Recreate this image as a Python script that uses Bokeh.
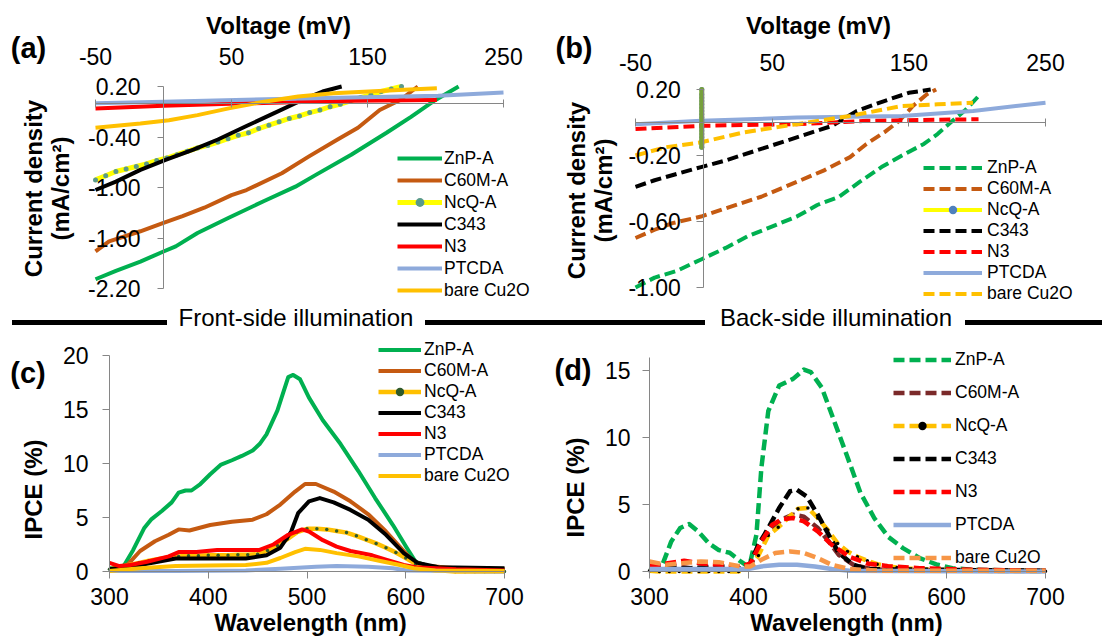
import math
from bokeh.plotting import figure
from bokeh.models import LinearAxis, FixedTicker, Label, Legend, LegendItem, Div
from bokeh.layouts import column, row
from bokeh.embed import file_html
from bokeh.resources import INLINE

FONT = "Liberation Sans"
GRAY = "#868686"

NAMES = ["ZnP-A", "C60M-A", "NcQ-A", "C343", "N3", "PTCDA", "bare Cu2O"]

# ---------------- (a) front-side J-V ----------------
a_xticks = [-50, 50, 150, 250]
a_xlabels = ["-50", "50", "150", "250"]
a_yticks = [0.2, -0.4, -1.0, -1.6, -2.2]
a_ylabels = ["0.20", "-0.40", "-1.00", "-1.60", "-2.20"]

a_znp_v = [-50, -35, -17, 0, 9, 25, 48, 74, 97, 112, 138, 164, 182, 200, 217]
a_znp_j = [-2.09, -1.99, -1.88, -1.76, -1.70, -1.54, -1.36, -1.16, -0.99, -0.85, -0.61, -0.35, -0.16, 0.04, 0.20]
a_c60_v = [-50, -40, -17, 0, 14, 30, 50, 61, 87, 107, 128, 143, 159, 174, 187]
a_c60_j = [-1.76, -1.64, -1.52, -1.42, -1.34, -1.24, -1.09, -1.03, -0.83, -0.63, -0.43, -0.29, -0.08, 0.04, 0.20]
a_ncq_v = [-50, -42.5, -35, -27.5, -20, -12.5, -5, 2.5, 10, 17.5, 25, 32.5, 40, 47.5, 55, 62.5,
           70, 77.5, 85, 92.5, 100, 107.5, 115, 122.5, 130, 137.5, 145, 152.5, 160, 167.5, 175]
a_ncq_j = [-0.91, -0.86, -0.81, -0.78, -0.75, -0.72, -0.68, -0.65, -0.61, -0.57, -0.53, -0.50, -0.46, -0.42, -0.38, -0.35,
           -0.30, -0.26, -0.22, -0.18, -0.15, -0.11, -0.08, -0.04, -0.01, 0.03, 0.07, 0.10, 0.14, 0.17, 0.20]
a_c343_v = [-50, -35, -17, 2, 22, 40, 61, 81, 102, 117, 131]
a_c343_j = [-1.03, -0.93, -0.79, -0.67, -0.55, -0.43, -0.27, -0.12, 0.04, 0.14, 0.20]
a_n3_v = [-50, 0, 61, 138, 201]
a_n3_j = [-0.06, -0.03, 0.00, 0.03, 0.04]
a_pt_v = [-50, 0, 138, 202, 250]
a_pt_j = [0.00, 0.02, 0.07, 0.09, 0.13]
a_cu_v = [-50, -17, 4, 25, 48, 74, 99, 125, 151, 177, 201]
a_cu_j = [-0.29, -0.24, -0.20, -0.14, -0.06, 0.02, 0.08, 0.12, 0.14, 0.16, 0.18]

# ---------------- (b) back-side J-V ----------------
b_xticks = [-50, 50, 150, 250]
b_xlabels = ["-50", "50", "150", "250"]
b_yticks = [0.2, -0.2, -0.6, -1.0]
b_ylabels = ["0.20", "-0.20", "-0.60", "-1.00"]

b_znp_v = [-50, -36, -20, -2, 16, 32, 47, 68, 83, 99, 114, 130, 145, 161, 171, 182, 192, 201]
b_znp_j = [-1.00, -0.94, -0.90, -0.83, -0.76, -0.69, -0.64, -0.57, -0.50, -0.45, -0.36, -0.27, -0.20, -0.13, -0.07, 0.01, 0.08, 0.16]
b_c60_v = [-50, -36, -23, -2, 16, 42, 68, 88, 107, 119, 132, 143, 153, 163, 170]
b_c60_j = [-0.70, -0.65, -0.61, -0.57, -0.52, -0.45, -0.36, -0.29, -0.21, -0.13, -0.06, 0.01, 0.10, 0.17, 0.20]
b_ncq_v = [-1.5, -1.5, -1.5, -1.5, -1.5, -1.5, -1.5, -1.5, -1.5, -1.5, -1.5, -1.5, -1.5, -1.5, -1.5, -1.5, -1.5, -1.5]
b_ncq_j = [-0.15, -0.13, -0.11, -0.09, -0.07, -0.05, -0.03, -0.01, 0.01, 0.03, 0.05, 0.07, 0.09, 0.11, 0.13, 0.15, 0.17, 0.20]
b_c343_v = [-50, -36, -2, 16, 42, 68, 94, 112, 132, 150, 166]
b_c343_j = [-0.39, -0.35, -0.27, -0.23, -0.16, -0.09, -0.02, 0.07, 0.13, 0.18, 0.20]
b_n3_v = [-50, -2, 68, 119, 201]
b_n3_j = [-0.04, -0.02, -0.01, 0.01, 0.02]
b_pt_v = [-50, -2, 68, 145, 197, 250]
b_pt_j = [-0.01, 0.01, 0.03, 0.04, 0.07, 0.12]
b_cu_v = [-50, -28, -2, 29, 68, 107, 145, 171, 197]
b_cu_j = [-0.20, -0.15, -0.12, -0.06, -0.01, 0.04, 0.10, 0.11, 0.12]

# ---------------- (c) front-side IPCE ----------------
c_xticks = [300, 400, 500, 600, 700]
c_xlabels = ["300", "400", "500", "600", "700"]
c_yticks = [0, 5, 10, 15, 20]
c_ylabels = ["0", "5", "10", "15", "20"]

c_znp_wl = [300, 310, 315, 324, 335, 342, 353, 363, 370, 377, 383, 392, 402, 413, 424, 434, 445, 452, 459,
            470, 481, 486, 493, 502, 516, 534, 552, 569, 587, 601, 610, 623, 651, 700]
c_znp = [0.3, 0.3, 0.6, 2.0, 4.0, 4.8, 5.6, 6.4, 7.3, 7.5, 7.5, 8.1, 9.0, 9.9, 10.3, 10.7, 11.2, 11.8, 12.7,
         14.9, 18.0, 18.2, 17.8, 16.1, 14.0, 11.8, 9.3, 6.8, 4.3, 2.2, 0.9, 0.5, 0.2, 0.2]
c_c60_wl = [300, 317, 331, 346, 360, 370, 381, 402, 424, 445, 459, 473, 488, 498, 509, 527, 544, 562, 580, 598, 608, 623, 651, 700]
c_c60 = [0.2, 0.5, 1.9, 2.8, 3.4, 3.9, 3.8, 4.3, 4.6, 4.8, 5.3, 6.2, 7.4, 8.1, 8.1, 7.4, 6.5, 5.3, 3.7, 1.9, 0.9, 0.5, 0.3, 0.2]
c_ncq_wl = [300, 310, 320, 330, 340, 350, 360, 370, 380, 390, 400, 410, 420, 430, 440, 450, 460, 470, 480, 490,
            500, 510, 520, 530, 540, 550, 560, 570, 580, 590, 600, 610, 620, 630, 640, 650, 660, 670, 680, 690, 700]
c_ncq = [0.2, 0.4, 0.6, 0.8, 1.0, 1.15, 1.3, 1.4, 1.45, 1.45, 1.5, 1.5, 1.5, 1.55, 1.55, 1.6, 1.95, 2.4, 3.0, 3.65,
         3.95, 3.95, 3.9, 3.75, 3.6, 3.3, 2.95, 2.6, 2.2, 1.75, 1.25, 0.7, 0.4, 0.2, 0.08, 0.0, 0.0, 0.0, 0.0, 0.0, 0.0]
c_c343_wl = [300, 331, 367, 402, 438, 459, 473, 484, 491, 502, 513, 527, 544, 562, 580, 598, 612, 633, 700]
c_c343 = [0.2, 0.6, 1.2, 1.2, 1.2, 1.5, 2.2, 3.7, 5.4, 6.5, 6.8, 6.4, 5.7, 4.8, 3.4, 1.7, 0.8, 0.4, 0.3]
c_n3_wl = [300, 310, 321, 338, 360, 370, 388, 409, 431, 452, 466, 481, 495, 502, 516, 530, 544, 566, 580, 598, 610, 651, 700]
c_n3 = [0.8, 0.5, 0.6, 0.9, 1.4, 1.8, 1.8, 2.0, 2.0, 2.0, 2.5, 3.4, 3.9, 3.7, 2.9, 2.3, 1.9, 1.5, 1.1, 0.6, 0.4, 0.2, 0.1]
c_pt_wl = [300, 367, 438, 473, 509, 530, 562, 587, 601, 700]
c_pt = [0.05, 0.05, 0.1, 0.25, 0.45, 0.5, 0.45, 0.3, 0.1, 0.0]
c_cu_wl = [300, 331, 367, 402, 438, 459, 473, 488, 498, 513, 530, 552, 573, 594, 608, 630, 700]
c_cu = [0.05, 0.3, 0.5, 0.55, 0.6, 0.8, 1.25, 1.8, 2.1, 2.0, 1.7, 1.4, 1.0, 0.6, 0.3, 0.1, 0.05]

# ---------------- (d) back-side IPCE ----------------
d_xticks = [300, 400, 500, 600, 700]
d_xlabels = ["300", "400", "500", "600", "700"]
d_yticks = [0, 5, 10, 15]
d_ylabels = ["0", "5", "10", "15"]

d_znp_wl = [300, 313, 322, 331, 340, 349, 360, 370, 381, 392, 399, 402, 408, 413, 420, 431, 445, 456, 463,
            474, 484, 499, 513, 527, 541, 556, 573, 591, 606, 627, 700]
d_znp = [0.05, 0.5, 2.25, 3.25, 3.55, 3.0, 2.1, 1.6, 1.4, 0.75, 0.4, 0.75, 2.75, 7.75, 12.0, 13.9, 14.4, 15.1, 14.9,
         13.75, 11.75, 8.75, 5.9, 4.0, 2.6, 1.75, 1.0, 0.5, 0.25, 0.13, 0.05]
d_c60_wl = [300, 324, 342, 370, 395, 404, 413, 424, 434, 445, 456, 470, 481, 491, 506, 527, 700]
d_c60 = [0.5, 0.4, 0.25, 0.25, 0.25, 0.75, 2.25, 3.25, 3.9, 4.25, 4.1, 3.25, 2.25, 1.25, 0.5, 0.13, 0.05]
d_ncq_wl = [300, 310, 320, 330, 340, 350, 360, 370, 380, 390, 400, 410, 420, 430, 440, 450, 460, 470, 480, 490,
            500, 510, 520, 530, 540, 550, 560, 570, 580, 590, 600, 610, 620, 630, 640, 650, 660, 670, 680, 690, 700]
d_ncq = [0.05, 0.0, 0.0, 0.0, 0.0, 0.0, 0.0, 0.0, 0.0, 0.0, 0.3, 1.2, 2.7, 3.3, 4.0, 4.7, 4.75, 4.0, 3.1, 2.1,
         1.5, 1.1, 0.8, 0.55, 0.4, 0.3, 0.22, 0.18, 0.15, 0.12, 0.1, 0.08, 0.06, 0.05, 0.05, 0.04, 0.04, 0.03, 0.03, 0.02, 0.02]
d_c343_wl = [300, 342, 370, 392, 401, 410, 420, 431, 442, 449, 459, 470, 481, 491, 506, 520, 700]
d_c343 = [0.25, 0.25, 0.38, 0.25, 0.5, 2.0, 3.25, 4.75, 6.0, 6.1, 5.6, 4.25, 2.75, 1.4, 0.5, 0.18, 0.05]
d_n3_wl = [300, 317, 335, 352, 374, 392, 402, 413, 424, 434, 445, 456, 470, 484, 502, 520, 541, 573, 627, 700]
d_n3 = [0.4, 0.6, 0.8, 0.6, 0.5, 0.35, 0.6, 2.25, 3.5, 3.9, 4.0, 3.75, 3.0, 2.0, 1.1, 0.6, 0.4, 0.25, 0.13, 0.05]
d_pt_wl = [300, 342, 399, 413, 431, 449, 467, 484, 502, 700]
d_pt = [0.18, 0.18, 0.18, 0.38, 0.5, 0.5, 0.38, 0.18, 0.05, 0.0]
d_cu_wl = [300, 317, 335, 352, 370, 392, 402, 413, 427, 442, 456, 470, 484, 502, 538, 591, 700]
d_cu = [0.75, 0.5, 0.63, 0.75, 0.7, 0.38, 0.38, 0.88, 1.38, 1.5, 1.38, 1.0, 0.5, 0.18, 0.05, 0.05, 0.05]

# ---------------- colours ----------------
GREEN = "#00b050"
BROWN = "#c55a11"
MAROON = "#7b2a2a"
YELLOW = "#ffff00"
GOLD = "#ffc000"
RED = "#ff0000"
BLUE = "#8eaadb"
ORANGE = "#f79646"
OLIVE = "#77a03c"
DASH = "11 5"
LW = 4


def fig_mapped(W, H, xa, xb, pxa, pxb, ya, yb, pya, pyb):
    """Figure whose frame fills the canvas; ranges chosen so that value xa sits at
    canvas pixel pxa, xb at pxb, ya at pya and yb at pyb (pixels from the top)."""
    sx = (pxb - pxa) / (xb - xa)
    x0 = xa - pxa / sx
    sy = (pya - pyb) / (yb - ya)
    y1 = yb + pyb / sy
    p = figure(width=W, height=H, x_range=(x0, x0 + W / sx), y_range=(y1 - H / sy, y1),
               output_backend="svg", toolbar_location=None,
               x_axis_location=None, y_axis_location=None, min_border=0,
               min_border_left=0, min_border_right=0, min_border_top=0, min_border_bottom=0)
    p.xgrid.visible = False
    p.ygrid.visible = False
    p.outline_line_color = None
    return p


def make_axis(ticks, labels, bounds, fixed, tick_out, tick_in, standoff):
    return LinearAxis(ticker=FixedTicker(ticks=ticks), bounds=bounds, fixed_location=fixed,
                      major_label_overrides={t: l for t, l in zip(ticks, labels)},
                      major_tick_out=tick_out, major_tick_in=tick_in,
                      major_label_standoff=standoff,
                      minor_tick_line_color=None,
                      major_tick_line_color=GRAY, axis_line_color=GRAY,
                      major_label_text_font=FONT, major_label_text_font_size="23px",
                      major_label_text_color="black")


def add_text(p, x, y, text, size, bold=False, angle=0.0):
    p.add_layout(Label(x=x, y=y, x_units="canvas", y_units="canvas", text=text,
                       text_font=FONT, text_font_size=size,
                       text_font_style="bold" if bold else "normal",
                       text_align="center", text_baseline="middle",
                       angle=angle, text_line_height=1.0, text_color="black"))


def add_series(p, x, y, color, width, dash="solid", dots=None):
    rs = [p.line(x, y, line_color=color, line_width=width, line_dash=dash, line_join="round")]
    if dots is not None:
        rs.append(p.scatter(x, y, marker="circle", size=dots[1], fill_color=dots[0], line_color=None))
    return rs


def add_legend(p, groups, loc, gw, gh, spacing, standoff):
    items = [LegendItem(label=n, renderers=r) for n, r in zip(NAMES, groups)]
    p.add_layout(Legend(items=items, location=loc, orientation="vertical",
                        background_fill_alpha=0, border_line_color=None,
                        padding=0, margin=0, spacing=spacing,
                        glyph_width=gw, glyph_height=gh, label_height=gh, label_width=10,
                        label_standoff=standoff, label_text_font=FONT,
                        label_text_font_size="17.5px", label_text_line_height=1.0,
                        label_text_color="black"))


# ================= panel (a) =================
pa = fig_mapped(550, 305, -50, 250, 95, 503, -2.2, 0.2, 288, 86)
pa.add_layout(make_axis(a_xticks, a_xlabels, (-50, 250), 0, 4, 4, 34), "above")
pa.add_layout(make_axis(a_yticks, a_ylabels, (-2.2, 0.2), 0, 6, 0, 17), "left")
ga = [
    add_series(pa, a_znp_v, a_znp_j, GREEN, LW),
    add_series(pa, a_c60_v, a_c60_j, BROWN, LW),
    add_series(pa, a_ncq_v, a_ncq_j, YELLOW, 5, dots=("#5a9a8a", 5)),
    add_series(pa, a_c343_v, a_c343_j, "black", LW),
    add_series(pa, a_n3_v, a_n3_j, RED, LW),
    add_series(pa, a_pt_v, a_pt_j, BLUE, LW),
    add_series(pa, a_cu_v, a_cu_j, GOLD, LW),
]
add_legend(pa, ga, (397, 4), 45, 22, 0, 2)
add_text(pa, 28, 47, "(a)", "29px", bold=True)
add_text(pa, 278, 25, "Voltage (mV)", "24px", bold=True)
add_text(pa, 46.5, 188, "Current density\n(mA/cm\u00b2)", "24px", bold=True, angle=math.pi / 2)

# ================= panel (b) =================
pb = fig_mapped(552, 305, -50, 250, 85, 495, -1.0, 0.2, 287, 89)
pb.add_layout(make_axis(b_xticks, b_xlabels, (-50, 250), 0, 4, 4, 48), "above")
pb.add_layout(make_axis(b_yticks, b_ylabels, (-1.0, 0.2), 0, 7, 0, 16), "left")
ncq_b_line = pb.line(b_ncq_v, b_ncq_j, line_color=YELLOW, line_width=LW)
ncq_b_dot = pb.scatter(b_ncq_v, b_ncq_j, marker="circle", size=5, fill_color="#4f81bd", line_color=None)
gb = [
    add_series(pb, b_znp_v, b_znp_j, GREEN, LW, DASH),
    add_series(pb, b_c60_v, b_c60_j, BROWN, LW, DASH),
    [ncq_b_line, ncq_b_dot],
    add_series(pb, b_c343_v, b_c343_j, "black", LW, DASH),
    add_series(pb, b_n3_v, b_n3_j, RED, LW, DASH),
    add_series(pb, b_pt_v, b_pt_j, BLUE, LW),
    add_series(pb, b_cu_v, b_cu_j, GOLD, LW, DASH),
]
pb.line(b_ncq_v, b_ncq_j, line_color=OLIVE, line_width=5, line_cap="round")
add_legend(pb, gb, (373, 1), 59, 21, 0, 5)
add_text(pb, 23.5, 47, "(b)", "29px", bold=True)
add_text(pb, 268, 25, "Voltage (mV)", "24px", bold=True)
add_text(pb, 39.5, 190, "Current density\n(mA/cm\u00b2)", "24px", bold=True, angle=math.pi / 2)

# ================= panel (c) =================
pc = fig_mapped(550, 302, 300, 700, 109, 504, 0, 20, 236, 20)
pc.add_layout(make_axis(c_xticks, c_xlabels, (300, 700), 0, 7, 0, 9), "below")
pc.add_layout(make_axis(c_yticks, c_ylabels, (0, 20), 300, 7, 0, 14), "left")
gc = [
    add_series(pc, c_znp_wl, c_znp, GREEN, LW),
    add_series(pc, c_c60_wl, c_c60, BROWN, LW),
    add_series(pc, c_ncq_wl, c_ncq, GOLD, 4.5, dots=("#2f5a2a", 3.5)),
    add_series(pc, c_c343_wl, c_c343, "black", LW),
    add_series(pc, c_n3_wl, c_n3, RED, LW),
    add_series(pc, c_pt_wl, c_pt, BLUE, LW),
    add_series(pc, c_cu_wl, c_cu, GOLD, LW),
]
add_legend(pc, gc, (378, 151), 43, 21, 0, 3)
add_text(pc, 27.5, 37.5, "(c)", "29px", bold=True)
add_text(pc, 33, 154, "IPCE (%)", "24px", bold=True, angle=math.pi / 2)
add_text(pc, 310, 287, "Wavelength (nm)", "24px", bold=True)

# ================= panel (d) =================
pd_ = fig_mapped(552, 302, 300, 700, 99, 495, 0, 16, 236, 22)
pd_.add_layout(make_axis(d_xticks, d_xlabels, (300, 700), 0, 7, 0, 9), "below")
pd_.add_layout(make_axis(d_yticks, d_ylabels, (0, 16), 300, 7, 0, 12), "left")
gd = [
    add_series(pd_, d_znp_wl, d_znp, GREEN, 4.5, DASH),
    add_series(pd_, d_c60_wl, d_c60, MAROON, 4.5, DASH),
    add_series(pd_, d_ncq_wl, d_ncq, GOLD, 4.5, DASH, dots=("black", 3.5)),
    add_series(pd_, d_c343_wl, d_c343, "black", 4.5, DASH),
    add_series(pd_, d_n3_wl, d_n3, RED, 4.5, DASH),
    add_series(pd_, d_pt_wl, d_pt, BLUE, 4.5),
    add_series(pd_, d_cu_wl, d_cu, ORANGE, 4.5, DASH),
]
add_legend(pd_, gd, (343, 69), 58, 21, 12, 4)
add_text(pd_, 22.5, 34, "(d)", "29px", bold=True)
add_text(pd_, 25, 152, "IPCE (%)", "24px", bold=True, angle=math.pi / 2)
add_text(pd_, 296, 287, "Wavelength (nm)", "24px", bold=True)

# ================= separator =================
bar = "position:absolute;top:15px;height:5px;background:#000;"
txt = ("position:absolute;top:13px;transform:translate(-50%,-50%);white-space:nowrap;"
       "font-family:'Liberation Sans',Arial,sans-serif;font-size:24px;color:#000;line-height:1;")
sep_html = (
    '<div style="position:relative;width:1102px;height:30px;">'
    f'<div style="{bar}left:12px;width:155px;"></div>'
    f'<div style="{txt}left:296px;">Front-side illumination</div>'
    f'<div style="{bar}left:425px;width:280px;"></div>'
    f'<div style="{txt}left:836px;">Back-side illumination</div>'
    f'<div style="{bar}left:965px;width:137px;"></div>'
    '</div>'
)
sep = Div(text=sep_html, width=1102, height=30, margin=(0, 0, 0, 0))

layout = column(row(pa, pb), sep, row(pc, pd_))
open("out.html", "w").write(file_html(layout, INLINE))
